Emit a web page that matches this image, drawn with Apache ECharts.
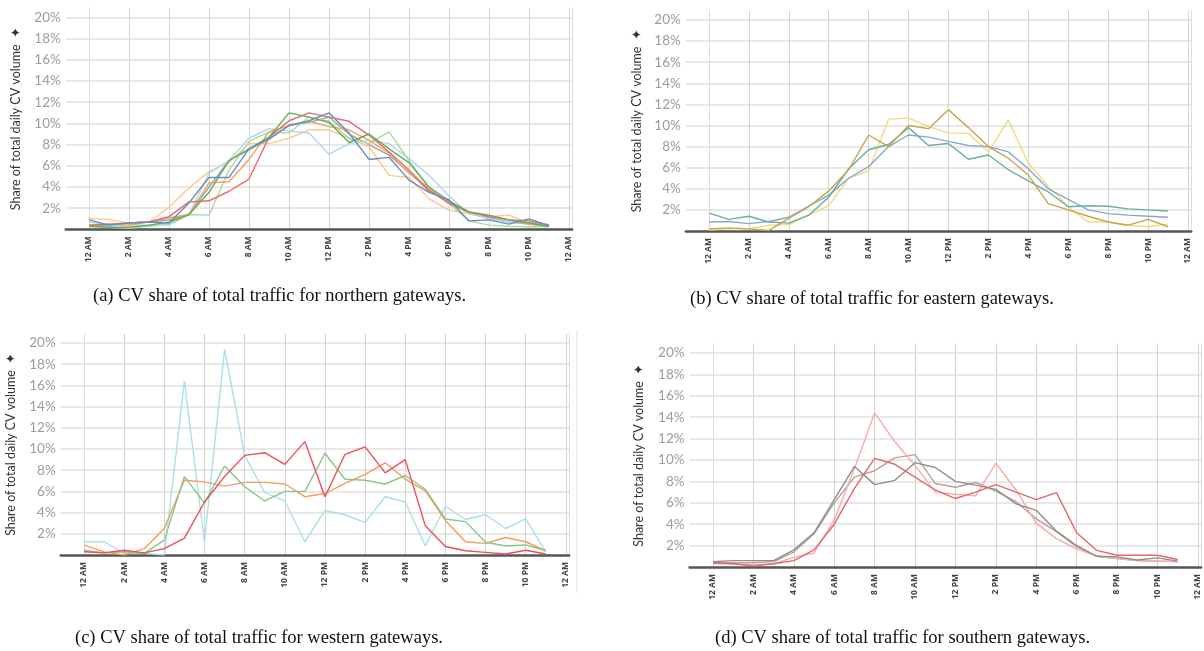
<!DOCTYPE html>
<html><head><meta charset="utf-8">
<script src="https://cdn.jsdelivr.net/npm/echarts@6/dist/echarts.min.js"></script>
<style>html,body{margin:0;padding:0;background:#fff}#c{width:1204px;height:651px}</style>
</head><body><div id="c"></div>
<script>
// ---------- data ----------
const hours = [0,1,2,3,4,5,6,7,8,9,10,11,12,13,14,15,16,17,18,19,20,21,22,23];
const xTickValues = [0,2,4,6,8,10,12,14,16,18,20,22,24];
const xTickLabels = ['12 AM','2 AM','4 AM','6 AM','8 AM','10 AM','12 PM','2 PM','4 PM','6 PM','8 PM','10 PM','12 AM'];
const yTickValues = [2,4,6,8,10,12,14,16,18,20];
const yAxisTitle = 'Share of total daily CV volume';
const captions = [
  '(a) CV share of total traffic for northern gateways.',
  '(b) CV share of total traffic for eastern gateways.',
  '(c) CV share of total traffic for western gateways.',
  '(d) CV share of total traffic for southern gateways.'
];

// (a) northern gateways (% of daily CV volume per hour)
const northGray   = [0.3,0.4,0.6,0.7,0.9,1.4,4.0,6.5,7.5,8.6,9.8,10.1,10.6,9.0,8.0,7.0,5.4,3.6,2.6,1.5,1.1,0.7,0.5,0.3];
const northPeach  = [1.0,0.95,0.55,0.7,2.1,3.9,5.45,6.3,8.1,8.1,8.6,9.4,9.4,8.6,7.8,5.1,4.9,2.9,1.8,1.5,1.2,1.35,0.6,0.5];
const northLtBlue = [0.7,0.4,0.4,0.4,0.4,1.4,5.3,6.5,8.6,9.5,9.3,9.1,7.1,8.1,8.4,8.1,6.7,5.1,3.15,1.5,1.0,0.7,0.6,0.4];
const northLtGreen= [0.3,0.2,0.1,0.3,0.5,1.4,1.35,5.6,8.3,9.2,9.1,10.6,10.2,8.6,8.1,9.2,6.5,3.9,2.45,0.8,0.4,0.3,0.25,0.25];
const northOrange = [0.4,0.5,0.4,0.7,1.1,1.4,4.4,4.5,6.6,9.2,9.8,10.2,9.7,9.4,8.4,7.2,5.3,3.9,2.45,1.6,1.25,0.9,0.5,0.3];
const northRed    = [0.4,0.5,0.6,0.7,1.2,2.6,2.7,3.6,4.75,8.7,10.25,11.0,10.6,10.2,8.9,7.3,5.6,3.7,2.45,1.65,1.2,0.9,0.8,0.4];
const northGreen  = [0.3,0.2,0.2,0.4,0.7,1.4,3.5,6.5,7.6,8.7,11.0,10.6,10.1,8.2,9.0,7.6,6.3,4.0,2.7,1.65,1.35,0.9,0.6,0.3];
const northBlue   = [0.9,0.4,0.6,0.7,0.6,2.5,4.9,4.9,7.6,8.5,9.8,10.25,11.0,9.1,6.6,6.8,4.65,3.5,2.8,0.8,0.9,0.5,1.0,0.35];

// (b) eastern gateways
const eastYellow = [0.1,0.2,0.2,0.55,0.6,1.5,2.4,5.0,5.7,10.6,10.7,9.9,9.3,9.25,7.5,10.5,6.45,4.25,2.3,0.85,0.85,0.55,0.4,0.65];
const eastBlue   = [0.85,0.9,0.7,0.9,1.3,2.35,3.4,5.0,6.1,8.0,9.1,8.9,8.5,8.1,8.0,7.5,5.9,4.0,3.0,2.0,1.65,1.5,1.4,1.3];
const eastTeal   = [1.7,1.1,1.4,0.85,0.75,1.5,3.2,5.9,7.7,8.2,9.8,8.1,8.3,6.8,7.2,5.8,4.75,3.7,2.3,2.4,2.35,2.1,2.0,1.9];
const eastOlive  = [0.2,0.3,0.2,0.05,1.2,2.3,3.8,5.8,9.1,8.0,10.0,9.7,11.5,9.8,8.0,6.9,5.3,2.6,2.0,1.4,0.85,0.55,1.1,0.4];

// (c) western gateways
const westCyan   = [1.25,1.25,0.15,0.15,0.0,16.4,1.25,19.4,9.4,5.9,5.1,1.25,4.2,3.8,3.05,5.5,5.0,0.85,4.6,3.35,3.8,2.5,3.4,0.3];
const westOrange = [0.95,0.3,0.0,0.6,2.5,7.05,6.9,6.5,6.85,6.85,6.7,5.5,5.8,6.75,7.6,8.7,7.15,6.05,3.25,1.25,1.1,1.65,1.25,0.4];
const westGreen  = [0.45,0.2,0.3,0.15,1.4,7.4,4.9,8.4,6.45,5.1,6.0,6.0,9.6,7.15,7.05,6.7,7.5,6.2,3.4,3.15,1.2,0.85,0.95,0.4];
const westRed    = [0.3,0.2,0.45,0.2,0.6,1.6,5.0,7.4,9.4,9.65,8.55,10.7,5.5,9.5,10.2,7.75,9.0,2.75,0.8,0.4,0.25,0.1,0.45,0.1];

// (d) southern gateways
const southBrown = [0.4,0.4,0.4,0.5,1.4,3.1,6.0,8.4,9.0,10.2,10.5,7.8,7.45,7.9,7.1,6.1,4.5,3.3,1.9,1.0,0.8,0.6,0.55,0.5];
const southPink  = [0.3,0.3,0.2,0.3,0.9,1.3,4.4,9.2,14.4,11.7,9.5,7.0,6.8,6.65,9.7,7.2,4.1,2.65,1.7,1.0,0.8,0.6,0.55,0.5];
const southGray  = [0.5,0.6,0.6,0.6,1.6,3.2,6.3,9.4,7.7,8.1,9.75,9.3,8.0,7.65,7.25,5.9,5.3,3.35,2.0,1.0,0.95,0.65,0.85,0.55];
const southRed   = [0.4,0.3,0.1,0.3,0.6,1.6,4.0,7.35,10.15,9.6,8.4,7.2,6.4,7.0,7.7,7.0,6.3,6.95,3.2,1.55,1.1,1.1,1.1,0.7];

// ---------- layout / style ----------
const panels = [
  {grid:{left:65.8, top:7.9, width:506.4, height:221.5}, gap:43,
   caption:{left:93, top:287},
   lines:[[northGray,'#a3a3a3'],[northPeach,'#ffc890'],[northLtBlue,'#b3d6f0'],[northLtGreen,'#a8dba0'],
          [northOrange,'#f5a25e'],[northRed,'#e46c6c'],[northGreen,'#5fae5f'],[northBlue,'#6a8cbf']]},
  {grid:{left:685.8, top:10.5, width:505.4, height:220.5}, gap:42,
   caption:{left:690, top:290},
   lines:[[eastYellow,'#f5d882'],[eastBlue,'#8ca7d1'],[eastTeal,'#6cae9f'],[eastOlive,'#c6a64c']]},
  {grid:{left:60.7, top:333.5, width:508.4, height:221.5}, gap:43,
   caption:{left:75, top:629},
   lines:[[westCyan,'#a9e0ea'],[westOrange,'#fa9a62'],[westGreen,'#86c986'],[westRed,'#ec4f5c']]},
  {grid:{left:689.6, top:343.4, width:511.5, height:223.6}, gap:44,
   caption:{left:715, top:629},
   lines:[[southBrown,'#b7a198'],[southPink,'#f8abab'],[southGray,'#8f8f8f'],[southRed,'#e46868']]}
];

const grids=[], xAxes=[], yAxes=[], series=[], titles=[];
panels.forEach((p,i)=>{
  grids.push(Object.assign({containLabel:false}, p.grid));
  xAxes.push({
    type:'value', gridIndex:i, min:-1.16, max:24.16,
    axisLine:{show:true, onZero:false, lineStyle:{color:'#555', width:2.5}},
    axisTick:{show:false, customValues:xTickValues},
    axisLabel:{customValues:xTickValues, rotate:90, margin:7,
      formatter:v=>xTickLabels[xTickValues.indexOf(Math.round(v))] || '',
      color:'#444', fontSize:8.5, fontWeight:'bold', fontFamily:'Open Sans'},
    splitLine:{show:true, lineStyle:{color:'#d4d4d4', width:1}}
  });
  yAxes.push({
    type:'value', gridIndex:i, min:0, max:20.9,
    name:yAxisTitle+'  \u2726', nameLocation:'middle', nameGap:p.gap, nameRotate:90,
    nameTextStyle:{color:'#333', fontSize:12.5, fontFamily:'Lato'},
    axisLine:{show:true, lineStyle:{color:'#dcdcdc', width:1}},
    axisTick:{show:false, customValues:yTickValues},
    axisLabel:{customValues:yTickValues, formatter:v=>Math.round(v)+'%', color:'#9c9c9c', fontSize:13.5, margin:5, fontFamily:'Lato'},
    splitLine:{show:true, lineStyle:{color:'#e1e1e1', width:1.5}}
  });
  yAxes.push({
    type:'value', gridIndex:i, min:0, max:20.9, position:'right',
    axisLine:{show:true, lineStyle:{color:'#dcdcdc', width:1}},
    axisTick:{show:false}, axisLabel:{show:false}, splitLine:{show:false}
  });
  p.lines.forEach(([vals,color],k)=>{
    series.push({
      type:'line', xAxisIndex:i, yAxisIndex:2*i, showSymbol:false, silent:true,
      data:hours.map((h,j)=>[h, vals[j]]),
      lineStyle:{color:color, width:1.4}, itemStyle:{color:color}, z:2+k
    });
  });
  titles.push({text:captions[i], left:p.caption.left, top:p.caption.top, padding:0,
    textStyle:{fontFamily:'Liberation Serif', fontSize:18.5, fontWeight:'normal', color:'#111'}});
});

const chart = echarts.init(document.getElementById('c'), null, {renderer:'canvas'});
chart.setOption({
  animation:false, backgroundColor:'#fff',
  title:titles, grid:grids, xAxis:xAxes, yAxis:yAxes, series:series,
  graphic:[{type:'line', shape:{x1:577, y1:330, x2:577, y2:593}, style:{stroke:'#e2e2e2', lineWidth:1}}]
});
</script></body></html>
